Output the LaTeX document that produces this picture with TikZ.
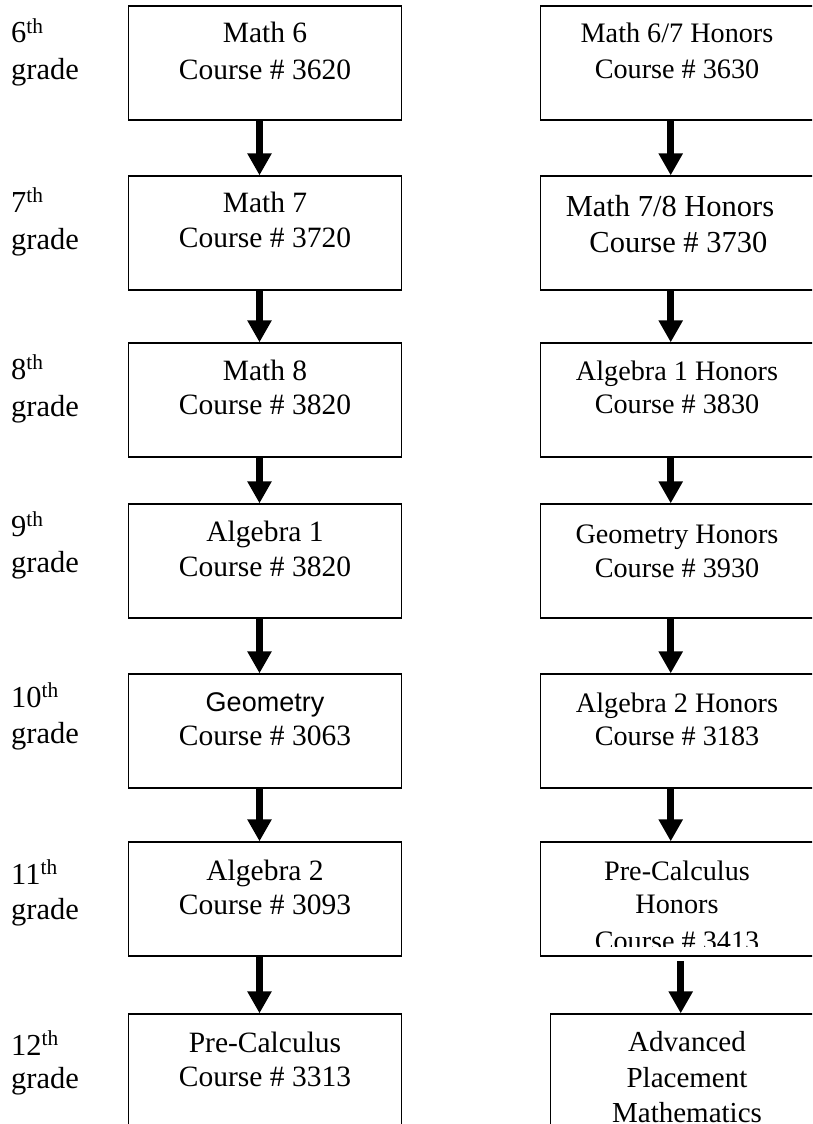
\documentclass[tikz,border=0pt]{standalone}
\usepackage{fontspec}
\setmainfont{Liberation Serif}
\newfontfamily\geofont{Liberation Sans}
\usetikzlibrary{arrows.meta}
\newcommand\lfont{\fontsize{29.5}{34}\selectfont}
\newcommand\rfont{\fontsize{28.2}{34}\selectfont}
\newcommand\bfontx{\fontsize{30.5}{36}\selectfont}
\newcommand\gfont{\fontsize{30.5}{36}\selectfont}
\begin{document}
\begin{tikzpicture}[x=1pt,y=-1pt,
  box/.style={draw, line width=1.3pt, rectangle, inner sep=0pt, minimum width=273.4pt, minimum height=114pt},
  ltxt/.style={anchor=base, inner sep=0pt, font=\lfont},
  rtxt/.style={anchor=base, inner sep=0pt, font=\rfont},
  glabel/.style={anchor=base west, inner sep=0pt, font=\gfont},
  arr/.style={line width=7.3pt, line cap=butt, -{Triangle[width=23pt,length=22pt]}}]
\useasboundingbox (0,0) rectangle (812,1124);
\clip (0,0) rectangle (812,1124);
\fill[white] (0,0) rectangle (812,1124);
% arrow columns
\coordinate (ax) at (259.5,0);
\coordinate (bx) at (670.7,0);
\coordinate (cx) at (680.7,0);
% left boxes
\node[box] (L1) at (265,63) {};
\node[box] (L2) at (265,233) {};
\node[box] (L3) at (265,400) {};
\node[box] (L4) at (265,561) {};
\node[box] (L5) at (265,731) {};
\node[box] (L6) at (265,899) {};
\node[box] (L7) at (265,1071) {};
% right boxes
\node[box] (R1) at (677.4,63) {};
\node[box] (R2) at (677.4,233) {};
\node[box] (R3) at (677.4,400) {};
\node[box] (R4) at (677.4,561) {};
\node[box] (R5) at (677.4,731) {};
\node[box] (R6) at (677.4,899) {};
\node[box] (R7) at (687.4,1071) {};
% left texts
\node[ltxt] (L1a) at (265,43) {Math 6};
\node[ltxt] (L1b) at (265,79) {Course \# 3620};
\node[ltxt] (L2a) at (265,212) {Math 7};
\node[ltxt] (L2b) at (265,247) {Course \# 3720};
\node[ltxt] (L3a) at (265,380) {Math 8};
\node[ltxt] (L3b) at (265,414) {Course \# 3820};
\node[ltxt] (L4a) at (265,541) {Algebra 1};
\node[ltxt] (L4b) at (265,576) {Course \# 3820};
\node[ltxt,font=\geofont\fontsize{27}{34}\selectfont] (L5a) at (265,711) {Geometry};
\node[ltxt] (L5b) at (265,745) {Course \# 3063};
\node[ltxt] (L6a) at (265,880) {Algebra 2};
\node[ltxt] (L6b) at (265,914) {Course \# 3093};
\node[ltxt] (L7a) at (265,1052) {Pre-Calculus};
\node[ltxt] (L7b) at (265,1086) {Course \# 3313};
% right texts
\node[rtxt] (R1a) at (677,43) {Math 6/7 Honors};
\node[rtxt] (R1b) at (677,78) {Course \# 3630};
\node[rtxt,font=\bfontx] (R2a) at (670,216) {Math 7/8 Honors};
\node[rtxt,font=\bfontx] (R2b) at (678.4,252) {Course \# 3730};
\node[rtxt] (R3a) at (677,380) {Algebra 1 Honors};
\node[rtxt] (R3b) at (677,413) {Course \# 3830};
\node[rtxt] (R4a) at (677,543) {Geometry Honors};
\node[rtxt] (R4b) at (677,577) {Course \# 3930};
\node[rtxt] (R5a) at (677,712) {Algebra 2 Honors};
\node[rtxt] (R5b) at (677,745) {Course \# 3183};
\node[rtxt] (R6a) at (677,880) {Pre-Calculus};
\node[rtxt] (R6b) at (677,913) {Honors};
\begin{scope}
\clip (541,842) rectangle (814,946);
\node[rtxt] (R6c) at (677,950) {Course \# 3413};
\end{scope}
\node[rtxt,font=\fontsize{29}{36}\selectfont] (R7a) at (687,1051) {Advanced};
\node[rtxt,font=\fontsize{29}{36}\selectfont] (R7b) at (687,1087) {Placement};
\node[rtxt,font=\fontsize{29}{36}\selectfont] (R7c) at (687,1122) {Mathematics};
% grade labels
\node[glabel] (g6) at (11,43) {6\textsuperscript{th}};
\node[glabel] (g6b) at (11,80) {grade};
\node[glabel] (g7) at (11,212) {7\textsuperscript{th}};
\node[glabel] (g7b) at (11,249) {grade};
\node[glabel] (g8) at (11,379) {8\textsuperscript{th}};
\node[glabel] (g8b) at (11,416) {grade};
\node[glabel] (g9) at (11,536) {9\textsuperscript{th}};
\node[glabel] (g9b) at (11,572) {grade};
\node[glabel] (g10) at (11,707) {10\textsuperscript{th}};
\node[glabel] (g10b) at (11,743) {grade};
\node[glabel] (g11) at (11,884) {11\textsuperscript{th}};
\node[glabel] (g11b) at (11,919) {grade};
\node[glabel] (g12) at (11,1055) {12\textsuperscript{th}};
\node[glabel] (g12b) at (11,1088) {grade};
% arrows left
\draw[arr] (L1.south -| ax) -- (L2.north -| ax);
\draw[arr] (L2.south -| ax) -- (L3.north -| ax);
\draw[arr] (L3.south -| ax) -- (L4.north -| ax);
\draw[arr] (L4.south -| ax) -- (L5.north -| ax);
\draw[arr] (L5.south -| ax) -- (L6.north -| ax);
\draw[arr] (L6.south -| ax) -- (L7.north -| ax);
% arrows right
\draw[arr] (R1.south -| bx) -- (R2.north -| bx);
\draw[arr] (R2.south -| bx) -- (R3.north -| bx);
\draw[arr] (R3.south -| bx) -- (R4.north -| bx);
\draw[arr] (R4.south -| bx) -- (R5.north -| bx);
\draw[arr] (R5.south -| bx) -- (R6.north -| bx);
\coordinate (r6s) at (680.7,961);
\draw[arr] (r6s) -- (R7.north -| cx);
\end{tikzpicture}
\end{document}
